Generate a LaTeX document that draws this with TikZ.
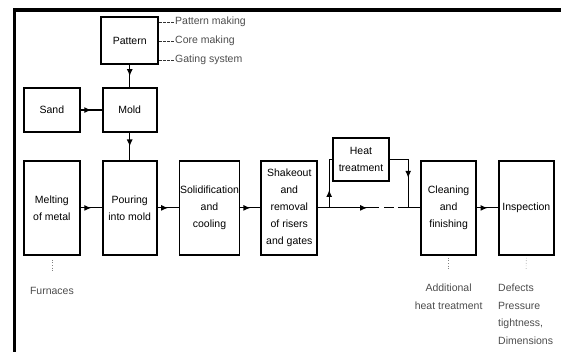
\documentclass[tikz,border=0pt]{standalone}
\usepackage{fontspec}
\setmainfont{Liberation Sans}
\usetikzlibrary{arrows.meta, positioning, calc, decorations.markings}

\begin{document}
\begin{tikzpicture}[
    x=1pt, y=-1pt,
    node distance=21pt,
    box/.style={draw, rectangle, line width=1.8pt, align=center, inner sep=0.5pt, font=\fontsize{10.5}{17}\selectfont},
    note/.style={align=left, inner sep=0pt, text=black!70, font=\fontsize{10.5}{17.5}\selectfont},
    link/.style={line width=1.2pt},
    mid arrow/.style={postaction={decorate}, decoration={markings, mark=at position #1 with {\arrow{Latex[length=7pt,width=6pt]}}}},
    mid arrow/.default=0.5,
    leader/.style={line width=0.7pt, dash pattern=on 2.5pt off 1.5pt, black!80},
    tick/.style={line width=0.6pt, dotted, black!50}
]
\useasboundingbox (0,0) rectangle (561,352);

% Frame
\draw[line width=4pt] (13,10.3) -- (561,10.3);
\draw[line width=3pt] (14.3,8.3) -- (14.3,352);

% Main row
\node[box, minimum width=56pt, minimum height=94pt, anchor=north west] (melt) at (23,160) {Melting\\of metal};
\node[box, minimum width=54pt, minimum height=94pt, right=21pt of melt] (pour) {Pouring\\into mold};
\node[box, minimum width=60pt, minimum height=94pt, right=21pt of pour] (solid) {Solidification\\and\\cooling};
\node[box, minimum width=56pt, minimum height=94pt, right=20pt of solid] (shake) {Shakeout\\and\\removal\\of risers\\and gates};
\node[box, minimum width=55pt, minimum height=94pt, right=102pt of shake] (clean) {Cleaning\\and\\finishing};
\node[box, minimum width=55pt, minimum height=94pt, right=21pt of clean] (insp) {Inspection};

% Upper boxes
\node[box, minimum width=54pt, minimum height=44pt, above=27pt of pour] (mold) {Mold};
\node[box, minimum width=56pt, minimum height=44pt, left=21pt of mold] (sand) {Sand};
\node[box, minimum width=57pt, minimum height=47pt, above=22pt of mold] (pattern) {Pattern};
\node[box, minimum width=56pt, minimum height=43pt] (heat) at (361,159.5) {Heat\\treatment};

% Pattern notes
\node[note, anchor=west] (pmake) at (175,22) {Pattern making};
\node[note, anchor=west] (cmake) at (175,41) {Core making};
\node[note, anchor=west] (gsys) at (175,60) {Gating system};
\draw[leader] (pattern.east |- pmake) -- (pmake.west);
\draw[leader] (pattern.east |- cmake) -- (cmake.west);
\draw[leader] (pattern.east |- gsys) -- (gsys.west);

% Bottom notes
\node[note, below=31pt of melt] (furn) {Furnaces};
\node[note, align=center, below=28pt of clean] (addl) {Additional\\heat treatment};
\node[note, below right=28pt and 0pt of insp.south west] (defects) {Defects\\Pressure\\tightness,\\Dimensions};
\draw[tick, shorten <=4pt, shorten >=15pt] (melt.south) -- (furn.north);
\draw[tick, shorten <=2pt, shorten >=15pt] (clean.south) -- (addl.north);
\draw[tick, shorten <=2pt, shorten >=15pt] (insp.south) -- (defects.north);

% Arrows
\draw[link, mid arrow] (pattern) -- (mold);
\draw[link, mid arrow] (sand) -- (mold);
\draw[link, mid arrow] (mold) -- (pour);
\draw[link, mid arrow] (melt) -- (pour);
\draw[link, mid arrow] (pour) -- (solid);
\draw[link, mid arrow] (solid) -- (shake);
\coordinate (split) at ($(shake.east)+(11,0)$);
\coordinate (join) at ($(clean.west)+(-12,0)$);
\draw[link] (shake.east) -- (split);
\draw[link, mid arrow=0.48, dash pattern=on 50pt off 5pt on 10pt off 4pt on 10pt] (split) -- (join);
\draw[link] (join) -- (clean.west);
\draw[link, mid arrow=0.35] (split) |- (heat.west);
\draw[link, mid arrow=0.55] (heat.east) -| (join);
\draw[link, mid arrow] (clean) -- (insp);

\end{tikzpicture}
\end{document}
